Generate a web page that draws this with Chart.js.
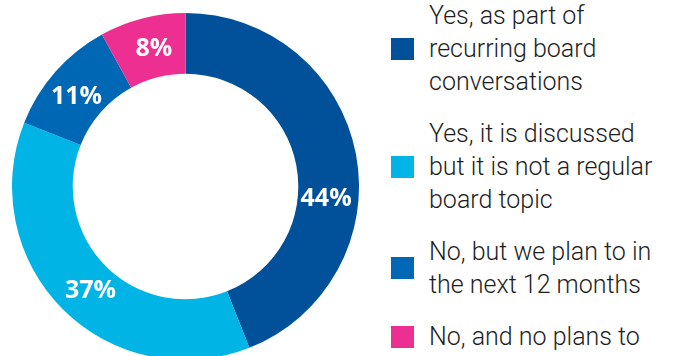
<!DOCTYPE html>
<html>
<head>
<meta charset="utf-8">
<script src="https://cdn.jsdelivr.net/npm/chart.js@4.4.1/dist/chart.umd.min.js"></script>
<style>
    html, body {
        margin: 0;
        padding: 0;
        width: 678px;
        height: 356px;
        overflow: hidden;
        background: #fff;
    }
    #chart-box {
        position: absolute;
        left: 12px;
        top: 13px;
        width: 347px;
        height: 347px;
    }
    #legend {
        position: absolute;
        left: 391px;
        top: -1px;
        display: flex;
        flex-direction: column;
        gap: 19px;
        font-family: Roboto, "Liberation Sans", sans-serif;
        font-weight: 300;
        font-size: 25px;
        line-height: 33px;
        color: #1e1e1e;
    }
    .item {
        display: flex;
        align-items: center;
    }
    .swatch {
        width: 23px;
        height: 22px;
        margin-right: 15px;
        flex: none;
    }
</style>
</head>
<body>
<div id="chart-box"><canvas id="donut"></canvas></div>
<div id="legend"></div>
<script>
const categories = [
    ['Yes, as part of', 'recurring board', 'conversations'],
    ['Yes, it is discussed', 'but it is not a regular', 'board topic'],
    ['No, but we plan to in', 'the next 12 months'],
    ['No, and no plans to'],
];
const values = [44, 37, 11, 8];
const colors = ['#00519a', '#00b4e6', '#0067b4', '#ec2f90'];

// white percentage labels inside the ring
const ringLabels = {
    id: 'ringLabels',
    afterDatasetsDraw(chart, args, opts) {
        const ctx = chart.ctx;
        const meta = chart.getDatasetMeta(0);
        ctx.save();
        ctx.fillStyle = '#fff';
        ctx.font = 'bold 25px "Open Sans", Roboto, sans-serif';
        ctx.textAlign = 'center';
        ctx.textBaseline = 'middle';
        meta.data.forEach((arc, i) => {
            const p = arc.getProps(['x', 'y', 'startAngle', 'endAngle', 'innerRadius', 'outerRadius'], true);
            const f = opts.along[i] ?? 0.5;
            const a = p.startAngle + (p.endAngle - p.startAngle) * f;
            const r = (p.innerRadius + p.outerRadius) / 2 - 2;
            ctx.fillText(values[i] + '%', p.x + Math.cos(a) * r, p.y + Math.sin(a) * r);
        });
        ctx.restore();
    }
};

new Chart(document.getElementById('donut'), {
    type: 'doughnut',
    data: {
        labels: categories.map(c => c.join(' ')),
        datasets: [{
            data: values,
            backgroundColor: colors,
            borderWidth: 0,
        }]
    },
    options: {
        responsive: true,
        maintainAspectRatio: false,
        animation: false,
        cutout: '65%',
        layout: { padding: 0 },
        plugins: {
            legend: { display: false },
            tooltip: { enabled: false },
            ringLabels: { along: [0.6, 0.48, 0.45, 0.55] },
        }
    },
    plugins: [ringLabels]
});

// legend built from the same arrays
const legend = document.getElementById('legend');
categories.forEach((lines, i) => {
    const item = document.createElement('div');
    item.className = 'item';
    const sw = document.createElement('div');
    sw.className = 'swatch';
    sw.style.background = colors[i];
    const txt = document.createElement('div');
    txt.innerHTML = lines.join('<br>');
    item.appendChild(sw);
    item.appendChild(txt);
    legend.appendChild(item);
});
</script>
</body>
</html>
